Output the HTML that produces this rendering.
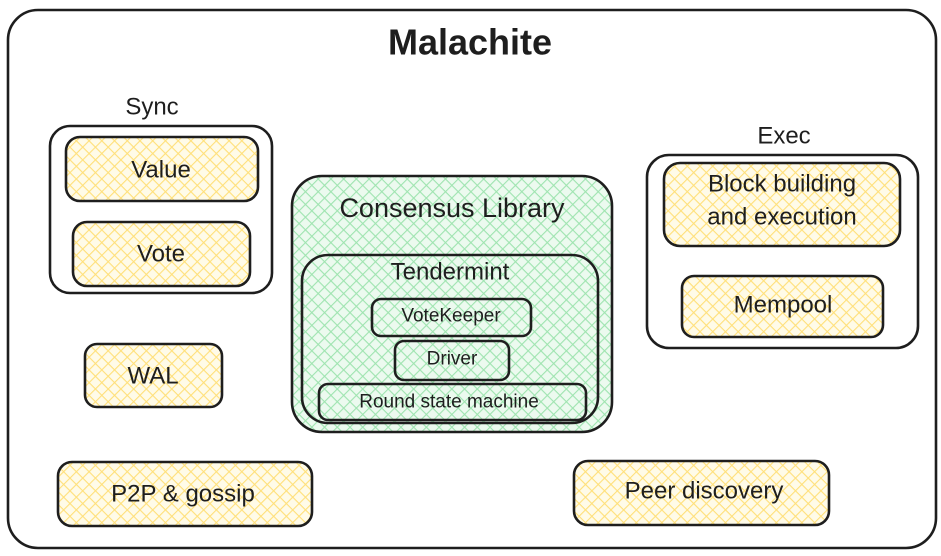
<!DOCTYPE html>
<html><head><meta charset="utf-8"><style>
html,body{margin:0;padding:0;background:#fff;}
svg{display:block;}
text{font-family:"Liberation Sans",sans-serif;fill:#1e1e1e;text-anchor:middle;dominant-baseline:central;}
</style></head><body>
<svg width="941" height="556" viewBox="0 0 941 556" xmlns="http://www.w3.org/2000/svg">
<defs>
<pattern id="y" width="9" height="9" patternUnits="userSpaceOnUse" patternTransform="rotate(45)">
<rect width="9" height="9" fill="#fffbe8"/>
<path d="M0 0H9M0 0V9" stroke="#ffe07a" stroke-width="2.2"/>
</pattern>
<pattern id="g" width="9" height="9" patternUnits="userSpaceOnUse" patternTransform="rotate(45)">
<rect width="9" height="9" fill="#ecfaef"/>
<path d="M0 0H9M0 0V9" stroke="#9fe4b0" stroke-width="2.2"/>
</pattern>
</defs>
<g fill="none" stroke="#1e1e1e" stroke-width="2.6">
<rect x="8" y="10" width="928" height="538" rx="30" fill="#fff"/>
<rect x="50" y="126" width="222" height="167" rx="20"/>
<rect x="66" y="137" width="192" height="64" rx="14" fill="url(#y)"/>
<rect x="73" y="222" width="177" height="64" rx="14" fill="url(#y)"/>
<rect x="85" y="344" width="137" height="63" rx="12" fill="url(#y)"/>
<rect x="58" y="462" width="254" height="64" rx="14" fill="url(#y)"/>
<rect x="292" y="176" width="320" height="256" rx="30" fill="url(#g)"/>
<rect x="302" y="255" width="296" height="168" rx="26"/>
<rect x="372" y="299" width="159" height="37" rx="9"/>
<rect x="395" y="341" width="114" height="39" rx="9"/>
<rect x="319" y="384" width="267" height="36" rx="9"/>
<rect x="647" y="155" width="271" height="193" rx="22"/>
<rect x="664" y="163" width="236" height="83" rx="16" fill="url(#y)"/>
<rect x="682" y="276" width="201" height="61" rx="12" fill="url(#y)"/>
<rect x="574" y="461" width="255" height="64" rx="14" fill="url(#y)"/>
</g>
<text x="470" y="42" font-size="36" font-weight="bold">Malachite</text>
<text x="152" y="107" font-size="24">Sync</text>
<text x="161" y="170" font-size="24">Value</text>
<text x="161" y="254" font-size="24">Vote</text>
<text x="153" y="376" font-size="24">WAL</text>
<text x="183" y="494" font-size="24">P2P &amp; gossip</text>
<text x="452" y="208" font-size="27">Consensus Library</text>
<text x="450" y="272" font-size="24">Tendermint</text>
<text x="451" y="316" font-size="19">VoteKeeper</text>
<text x="452" y="359" font-size="19">Driver</text>
<text x="449" y="402" font-size="19">Round state machine</text>
<text x="784" y="136" font-size="24">Exec</text>
<text x="782" y="184" font-size="24">Block building</text>
<text x="782" y="217" font-size="24">and execution</text>
<text x="783" y="305" font-size="24">Mempool</text>
<text x="704" y="491" font-size="24">Peer discovery</text>
</svg>
</body></html>
